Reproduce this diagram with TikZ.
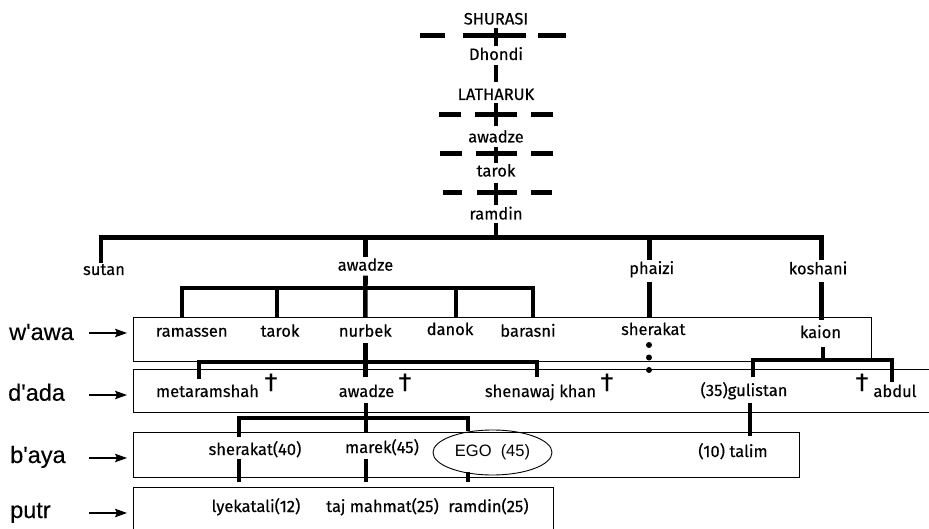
\documentclass[tikz,border=0pt]{standalone}
\usepackage{fontspec}
\setmainfont{Fira Sans}[FakeBold=0.35]
\newfontfamily\labfont{Liberation Sans}[FakeBold=0.3]
\newfontfamily\egofont{Liberation Sans}
\usetikzlibrary{arrows.meta,shapes.geometric}
\begin{document}
\begin{tikzpicture}[x=1pt,y=-1pt,
  nm/.style={font=\fontsize{16.5}{19}\selectfont, inner sep=1pt, anchor=base},
  dagger/.style={font=\fontsize{26}{28}\selectfont, inner sep=0pt, anchor=base},
  kin/.style={line width=4.6pt},
  dashbar/.style={line width=5pt},
  boxline/.style={line width=0.9pt},
  box/.style={draw, line width=0.9pt, inner sep=0pt, outer sep=0pt},
  lvl/.style={font=\labfont\fontsize{23.5}{26}\selectfont, anchor=base west, inner sep=0pt},
  lvlarrow/.style={-{Stealth[length=12pt,width=8.5pt,inset=2pt]}, line width=1.2pt},
]
\useasboundingbox (0,0) rectangle (929,529);
% ---------- level boxes
\node[box, minimum width=738pt, minimum height=44pt] (wawa) at (502,339) {};
\draw[boxline] (929,369) -- (133,369) -- (133,412) -- (929,412);
\node[box, minimum width=666pt, minimum height=45pt] (baya) at (466,454.5) {};
\draw[boxline] (133,529) -- (133,487) -- (553,487) -- (553,529);
% ---------- top line
\node[nm] (shurasi)  at (496,24.5)  {SHURASI};
\node[nm] (dhondi)   at (496,60)    {Dhondi};
\node[nm] (latharuk) at (496,100)   {LATHARUK};
\node[nm] (awadzeA)  at (496,142.5) {awadze};
\node[nm] (tarokA)   at (496,176.5) {tarok};
\node[nm] (ramdinA)  at (496,219.5) {ramdin};
\draw[dashbar] (420,36)--(445,36) (463,36)--(526,36) (538,36)--(566,36);
\draw[dashbar] (439,115)--(461,115) (475,115)--(517,115) (531,115)--(553,115);
\draw[dashbar] (440,154)--(462,154) (476,154)--(517,154) (531,154)--(553,154);
\draw[dashbar] (443,193)--(462,193) (477,193)--(517,193) (531,193)--(552,193);
\draw[kin, shorten <=2.5pt] (shurasi.south) -- (dhondi.north);
\draw[kin, shorten <=4pt, shorten >=5pt] (dhondi.south) -- (latharuk.north);
\draw[kin, shorten <=2pt, shorten >=3pt] (latharuk.south) -- (awadzeA.north);
\draw[kin, shorten <=3.5pt] (awadzeA.south) -- (tarokA.north);
\draw[kin, shorten <=5.5pt] (tarokA.south) -- (ramdinA.north);
\coordinate (barA) at (496,237.5);
\draw[kin, shorten <=2.5pt] (ramdinA.south) -- (barA);
% ---------- children of ramdin
\node[nm] (sutan)   at (104,275)   {sutan};
\node[nm] (awadzeB) at (365.5,270.7) {awadze};
\node[nm] (phaizi)  at (651.7,274) {phaizi};
\node[nm] (koshani) at (818,274.3) {koshani};
\draw[kin] ([xshift=-3pt]sutan.north) |- (barA) -| ([xshift=3.5pt]koshani.north);
\draw[kin] (awadzeB.north) -- (awadzeB.north |- barA);
\draw[kin] ([xshift=-2.5pt]phaizi.north) -- ([xshift=-2.5pt]phaizi.north |- barA);
% ---------- w'awa row
\node[nm] (ramassen) at (191.7,336.7) {ramassen};
\node[nm] (tarokB)   at (280,336.7)   {tarok};
\node[nm] (nurbek)   at (365.3,336.7) {nurbek};
\node[nm] (danok)    at (450,335)     {danok};
\node[nm] (barasni)  at (528,336.7)   {barasni};
\node[nm] (sherakatA) at (653.3,335)  {sherakat};
\node[nm] (kaion)    at (820.5,338)   {kaion};
\draw[kin, shorten <=3.5pt] ([xshift=-2.5pt]phaizi.south) -- ([xshift=-2.5pt]phaizi.south |- wawa.north);
\draw[kin, shorten <=6.5pt, shorten >=-3pt] ([xshift=3.5pt]koshani.south) -- ([xshift=3.5pt]koshani.south |- wawa.north);
\coordinate (barB) at (365.3,288);
\coordinate (dR) at (182,317);
\coordinate (dT) at (277,317);
\coordinate (dD) at (456,317);
\coordinate (dB) at (533,317);
\draw[kin, shorten <=3.5pt] (awadzeB.south) -- (nurbek.north |- wawa.north);
\draw[kin] (dR) |- (barB) -| (dB);
\draw[kin] (dT) -- (dT |- barB);
\draw[kin] (dD) -- (dD |- barB);
% ---------- d'ada row
\node[nm] (metaramshah) at (207.5,397) {metaramshah};
\node[nm] (awadzeC)  at (366.5,397) {awadze};
\node[nm] (shenawaj) at (540.5,397) {shenawaj khan};
\node[nm] (gulistan) at (744,396)   {(35)gulistan};
\node[nm] (abdul)    at (895,397)   {abdul};
\node[dagger] (dg1) at (271,391) {†};
\node[dagger] (dg2) at (405,391) {†};
\node[dagger] (dg3) at (607,391) {†};
\node[dagger] (dg4) at (862,391) {†};
\coordinate (barC) at (365,362);
\coordinate (dMe) at (199,379);
\coordinate (dSh) at (537,377);
\draw[kin, shorten <=5pt] (nurbek.south) -- (nurbek.south |- dSh);
\draw[kin] (dMe) |- (barC) -| (dSh);
\fill (649,345) circle (3pt) (649,357.5) circle (3pt) (649,370) circle (3pt);
\coordinate (barD) at (823,360);
\coordinate (dGu) at (753,377);
\coordinate (dAb) at (892,382);
\draw[kin, shorten <=8pt] ([xshift=2.5pt]kaion.south) -- (barD);
\draw[kin] (dGu) |- (barD) -| (dAb);
% ---------- b'aya row
\node[nm] (sherakatB) at (255,455) {sherakat(40)};
\node[nm] (marek)     at (382,453) {marek(45)};
\node[draw, ellipse, line width=0.9pt, minimum width=119pt, minimum height=45pt, inner sep=0pt,
      font=\egofont\fontsize{16.5}{19}\selectfont] (ego) at (492.5,452.5) {EGO\ \ (45)};
\node[nm] (talim) at (733,457) {(10) talim};
\coordinate (dTa) at (750,436);
\draw[kin, shorten <=2pt] (gulistan.south -| dTa) -- (dTa);
\coordinate (dMa) at (366,432);
\coordinate (barE) at (366,418);
\coordinate (dSe) at (239,437);
\coordinate (dEg) at (468,431);
\draw[kin, shorten <=5pt] (awadzeC.south -| dMa) -- (dMa);
\draw[kin] (dSe) |- (barE) -| (dEg);
% ---------- putr row
\node[nm] (lyek)    at (256,512)   {lyekatali(12)};
\node[nm] (taj)     at (382.5,512) {taj mahmat(25)};
\node[nm] (ramdinB) at (488.5,512) {ramdin(25)};
\coordinate (putrTop) at (0,482);
\draw[kin] (sherakatB.south -| dSe) -- (dSe |- putrTop);
\draw[kin, shorten <=2pt] (marek.south -| dMa) -- (dMa |- putrTop);
\draw[kin, shorten <=-3pt] (ego.south -| dEg) -- (dEg |- putrTop);
% ---------- level labels
\node[lvl] (lw) at (9,340)   {w'awa};
\node[lvl] (ld) at (8,400.7) {d'ada};
\node[lvl] (lb) at (10,463)  {b'aya};
\node[lvl] (lp) at (10,518)  {putr};
\coordinate (aw) at (89,333);
\coordinate (ad) at (89,395);
\coordinate (ab) at (89,458);
\coordinate (ap) at (89,513);
\draw[lvlarrow, shorten >=6pt] (aw) -- (aw -| wawa.west);
\draw[lvlarrow, shorten >=6pt] (ad) -- (ad -| wawa.west);
\draw[lvlarrow, shorten >=6pt] (ab) -- (ab -| baya.west);
\draw[lvlarrow, shorten >=6pt] (ap) -- (ap -| baya.west);
\end{tikzpicture}
\end{document}
